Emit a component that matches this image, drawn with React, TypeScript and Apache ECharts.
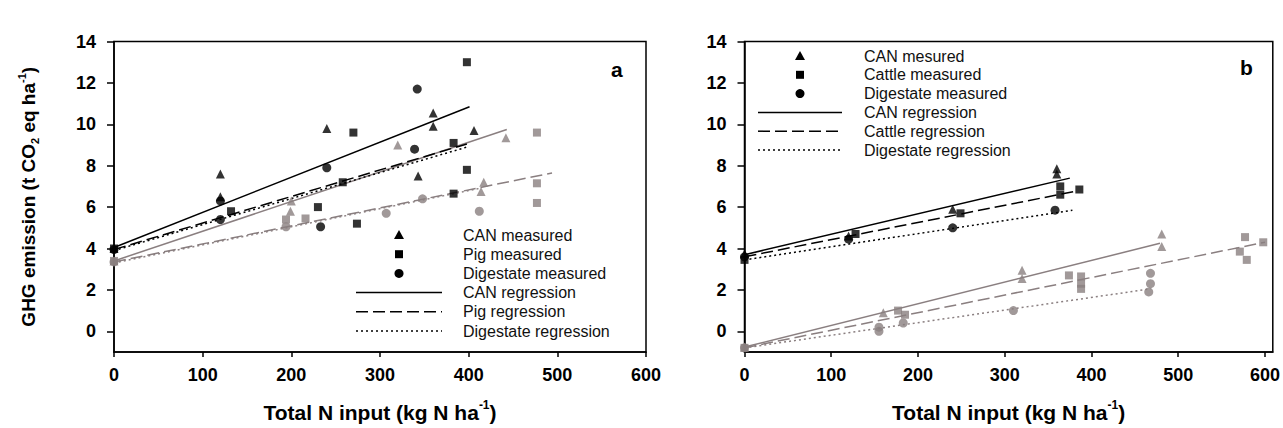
import React, { useEffect, useRef } from "react";
import * as echarts from "echarts";

// ---- shared ticks ----
const xTicks = [0, 100, 200, 300, 400, 500, 600];
const yTicks = [0, 2, 4, 6, 8, 10, 12, 14];

// ---- panel a (black = first set, gray = second set) ----
const aCanMeasured = [[0, 4.0], [120, 7.6], [120, 6.5], [240, 9.8], [360, 10.55], [360, 9.9], [343, 7.5], [406, 9.7]];
const aPigMeasured = [[0, 4.0], [132, 5.8], [270, 9.6], [258, 7.2], [230, 6.0], [274, 5.2], [398, 13.0], [383, 9.1], [398, 7.8], [383, 6.65]];
const aDigMeasured = [[0, 3.95], [120, 6.3], [120, 5.4], [240, 7.9], [233, 5.05], [342, 11.7], [339, 8.8]];
const aCanGray = [[0, 3.4], [320, 9.0], [442, 9.35], [417, 7.2], [414, 6.75], [199, 5.8], [200, 6.3]];
const aPigGray = [[0, 3.4], [477, 9.6], [477, 7.15], [477, 6.2], [194, 5.4], [216, 5.45]];
const aDigGray = [[0, 3.35], [412, 5.8], [348, 6.4], [307, 5.7], [194, 5.05]];
const aCanReg = [[0, 4.05], [401, 10.85]];
const aPigReg = [[0, 3.95], [398, 9.05]];
const aDigReg = [[0, 3.9], [398, 8.9]];
const aCanRegGray = [[0, 3.4], [443, 9.75]];
const aPigRegGray = [[0, 3.35], [494, 7.65]];
const aDigRegGray = [[0, 3.3], [412, 6.9]];

// ---- panel b ----
const bCanMeasured = [[0, 3.75], [120, 4.6], [240, 5.9], [360, 7.85], [360, 7.6]];
const bCattleMeasured = [[0, 3.45], [128, 4.7], [249, 5.7], [364, 7.0], [364, 6.6], [386, 6.85]];
const bDigMeasured = [[0, 3.6], [120, 4.45], [240, 5.0], [358, 5.85]];
const bCanGray = [[0, -0.76], [160, 0.9], [320, 2.95], [320, 2.55], [481, 4.7], [481, 4.1]];
const bCattleGray = [[0, -0.8], [177, 1.0], [185, 0.8], [374, 2.7], [388, 2.65], [388, 2.3], [388, 2.05], [577, 4.55], [571, 3.85], [579, 3.45], [598, 4.3]];
const bDigGray = [[0, -0.8], [155, 0.2], [155, 0.0], [183, 0.4], [310, 1.0], [468, 2.8], [468, 2.3], [466, 1.9]];
const bCanReg = [[0, 3.7], [375, 7.4]];
const bCattleReg = [[0, 3.6], [380, 6.75]];
const bDigReg = [[0, 3.45], [378, 5.85]];
const bCanRegGray = [[0, -0.76], [479, 4.25]];
const bCattleRegGray = [[0, -0.8], [600, 4.3]];
const bDigRegGray = [[0, -0.8], [468, 2.05]];

const legendA = ["CAN measured", "Pig measured", "Digestate measured", "CAN regression", "Pig regression", "Digestate regression"];
const legendB = ["CAN mesured", "Cattle measured", "Digestate measured", "CAN regression", "Cattle regression", "Digestate regression"];
const legendKinds = ["triangle", "rect", "circle", "solid", "dash", "dot"];

const FONT = "'Liberation Sans', Arial, sans-serif";
const BLACK = "#000000";
const GRAY = "#8a7f80";
const DASH = [12, 5];
const DOT = [2, 3];

function scatter(name: string, data: number[][], symbol: string, color: string, idx: number, size = 9) {
  return {
    type: "scatter",
    name,
    data,
    symbol,
    symbolSize: size,
    itemStyle: { color },
    xAxisIndex: idx,
    yAxisIndex: idx,
    z: 4,
  };
}

function line(name: string, data: number[][], type: any, color: string, idx: number, width = 1.5) {
  return {
    type: "line",
    name,
    data,
    symbol: "none",
    showSymbol: false,
    lineStyle: { color, width, type },
    itemStyle: { color },
    xAxisIndex: idx,
    yAxisIndex: idx,
    z: 3,
  };
}

const axisTitleRich = {
  t: { fontSize: 21, fontWeight: "bold", fontFamily: FONT, color: "#000", lineHeight: 26 },
  s: { fontSize: 12, fontWeight: "bold", fontFamily: FONT, color: "#000", lineHeight: 26, verticalAlign: "top" },
};

function mkX(gi: number, max: number) {
  return {
    type: "value",
    gridIndex: gi,
    min: 0,
    max,
    axisLine: { show: true, onZero: false, lineStyle: { color: BLACK, width: 1.5 } },
    axisTick: { show: true, inside: false, length: 5, lineStyle: { color: BLACK, width: 1.5 }, customValues: xTicks },
    axisLabel: { customValues: xTicks, margin: 14, fontSize: 18, fontWeight: "bold", fontFamily: FONT, color: "#000" },
    splitLine: { show: false },
    name: "{t|Total N input (kg N ha}{s|-1}{t|)}",
    nameLocation: "middle",
    nameGap: 47,
    nameTextStyle: { rich: axisTitleRich },
  };
}

function mkY(gi: number, withName: boolean) {
  const ax: any = {
    type: "value",
    gridIndex: gi,
    min: -1,
    max: 14,
    axisLine: { show: true, onZero: false, lineStyle: { color: BLACK, width: 1.5 } },
    axisTick: { show: true, inside: false, length: 7, lineStyle: { color: BLACK, width: 1.5 }, customValues: yTicks },
    axisLabel: { customValues: yTicks, margin: 18, fontSize: 18, fontWeight: "bold", fontFamily: FONT, color: "#000" },
    splitLine: { show: false },
  };
  if (withName) {
    ax.name = "{t|GHG emission (t CO}{b|2}{t| eq ha}{s|-1}{t|)}";
    ax.nameLocation = "middle";
    ax.nameGap = 74;
    ax.nameRotate = 90;
    ax.nameTextStyle = {
      rich: {
        t: { fontSize: 19, fontWeight: "bold", fontFamily: FONT, color: "#000", lineHeight: 24 },
        s: { fontSize: 11, fontWeight: "bold", fontFamily: FONT, color: "#000", lineHeight: 24, verticalAlign: "top" },
        b: { fontSize: 11, fontWeight: "bold", fontFamily: FONT, color: "#000", lineHeight: 24, verticalAlign: "bottom" },
      },
    };
  }
  return ax;
}

// Hand-made legend (graphic), so the markers keep their shapes
function legendGraphic(names: string[], lineX1: number, lineX2: number, textX: number, top: number, rowH: number) {
  const els: any[] = [];
  const cx = (lineX1 + lineX2) / 2;
  names.forEach((name, i) => {
    const cy = top + i * rowH;
    const kind = legendKinds[i];
    if (kind === "triangle") {
      els.push({ type: "polygon", shape: { points: [[cx, cy - 5], [cx - 5, cy + 4], [cx + 5, cy + 4]] }, style: { fill: BLACK } });
    } else if (kind === "rect") {
      els.push({ type: "rect", shape: { x: cx - 4, y: cy - 4, width: 8, height: 8 }, style: { fill: BLACK } });
    } else if (kind === "circle") {
      els.push({ type: "circle", shape: { cx, cy, r: 4.5 }, style: { fill: BLACK } });
    } else {
      const dash = kind === "dash" ? DASH : kind === "dot" ? DOT : null;
      els.push({
        type: "line",
        shape: { x1: lineX1, y1: cy, x2: lineX2, y2: cy },
        style: { stroke: BLACK, lineWidth: 1.5, lineDash: dash },
      });
    }
    els.push({
      type: "text",
      x: textX,
      y: cy,
      style: { text: name, fontSize: 16, fontFamily: FONT, fill: "#111", verticalAlign: "middle", align: "left" },
    });
  });
  return els;
}

export default function App() {
  const ref = useRef<HTMLDivElement>(null);
  useEffect(() => {
    if (!ref.current) return;
    const chart = echarts.init(ref.current, null, { renderer: "svg" });
    chart.setOption({
      animation: false,
      backgroundColor: "#ffffff",
      grid: [
        { left: 114, top: 41.5, width: 532, height: 310.5, show: true, borderColor: BLACK, borderWidth: 1.5, backgroundColor: "transparent" },
        { left: 744.5, top: 41.5, width: 532.5, height: 310.5, show: true, borderColor: BLACK, borderWidth: 1.5, backgroundColor: "transparent" },
      ],
      xAxis: [mkX(0, 600), mkX(1, 609)],
      yAxis: [mkY(0, true), mkY(1, false)],
      graphic: [
        ...legendGraphic(legendA, 356, 442, 463, 235, 19.2),
        ...legendGraphic(legendB, 758, 842, 864, 56, 18.8),
        { type: "text", x: 611, y: 59, style: { text: "a", fontSize: 21, fontWeight: "bold", fontFamily: FONT, fill: "#000" } },
        { type: "text", x: 1240, y: 57, style: { text: "b", fontSize: 21, fontWeight: "bold", fontFamily: FONT, fill: "#000" } },
      ],
      series: [
        // panel a gray (second set)
        line("a CAN regression 2", aCanRegGray, "solid", GRAY, 0),
        line("a Pig regression 2", aPigRegGray, DASH, GRAY, 0),
        line("a Digestate regression 2", aDigRegGray, DOT, GRAY, 0),
        scatter("a CAN measured 2", aCanGray, "triangle", GRAY, 0),
        scatter("a Pig measured 2", aPigGray, "rect", GRAY, 0, 8),
        scatter("a Digestate measured 2", aDigGray, "circle", GRAY, 0),
        // panel a black
        line("CAN regression", aCanReg, "solid", BLACK, 0),
        line("Pig regression", aPigReg, DASH, BLACK, 0),
        line("Digestate regression", aDigReg, DOT, BLACK, 0),
        scatter("CAN measured", aCanMeasured, "triangle", BLACK, 0),
        scatter("Pig measured", aPigMeasured, "rect", BLACK, 0, 8),
        scatter("Digestate measured", aDigMeasured, "circle", BLACK, 0),
        // panel b gray
        line("b CAN regression 2", bCanRegGray, "solid", GRAY, 1),
        line("b Cattle regression 2", bCattleRegGray, DASH, GRAY, 1),
        line("b Digestate regression 2", bDigRegGray, DOT, GRAY, 1),
        scatter("b CAN measured 2", bCanGray, "triangle", GRAY, 1),
        scatter("b Cattle measured 2", bCattleGray, "rect", GRAY, 1, 8),
        scatter("b Digestate measured 2", bDigGray, "circle", GRAY, 1),
        // panel b black
        line("b CAN regression", bCanReg, "solid", BLACK, 1),
        line("Cattle regression", bCattleReg, DASH, BLACK, 1),
        line("b Digestate regression", bDigReg, DOT, BLACK, 1),
        scatter("CAN mesured", bCanMeasured, "triangle", BLACK, 1),
        scatter("Cattle measured", bCattleMeasured, "rect", BLACK, 1, 8),
        scatter("b Digestate measured", bDigMeasured, "circle", BLACK, 1),
      ],
    });
    return () => chart.dispose();
  }, []);
  return (
    <div
      ref={ref}
      style={{ position: "absolute", left: 0, top: 0, width: 1283, height: 428, background: "#fff" }}
    />
  );
}
